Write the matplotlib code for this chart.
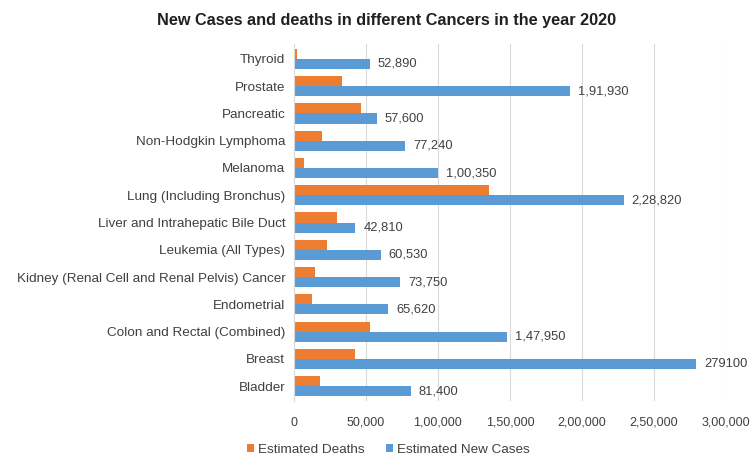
import matplotlib.pyplot as plt
import numpy as np

plt.rcParams['font.family'] = ['Liberation Sans', 'DejaVu Sans']

cancers = ['Bladder', 'Breast', 'Colon and Rectal (Combined)', 'Endometrial',
           'Kidney (Renal Cell and Renal Pelvis) Cancer', 'Leukemia (All Types)',
           'Liver and Intrahepatic Bile Duct', 'Lung (Including Bronchus)',
           'Melanoma', 'Non-Hodgkin Lymphoma', 'Pancreatic', 'Prostate', 'Thyroid']
new_cases = [81400, 279100, 147950, 65620, 73750, 60530, 42810, 228820,
             100350, 77240, 57600, 191930, 52890]
deaths = [17980, 42690, 53200, 12590, 14830, 23100, 30160, 135720,
          6850, 19940, 47050, 33330, 2180]
case_labels = ['81,400', '279100', '1,47,950', '65,620', '73,750', '60,530',
               '42,810', '2,28,820', '1,00,350', '77,240', '57,600',
               '1,91,930', '52,890']
xticks = [0, 50000, 100000, 150000, 200000, 250000, 300000]
xtick_labels = ['0', '50,000', '1,00,000', '1,50,000', '2,00,000',
                '2,50,000', '3,00,000']

txt_color = '#404040'

fig = plt.figure(figsize=(7.51, 4.57), dpi=100)
ax = fig.add_axes([0.391, 0.122, 0.576, 0.782])

y = np.arange(len(cancers))
h = 0.37
ax.barh(y + h / 2, deaths, height=h, color='#ED7D31', label='Estimated Deaths')
bars = ax.barh(y - h / 2, new_cases, height=h, color='#5B9BD5',
               label='Estimated New Cases')
for b, txt in zip(bars, case_labels):
    ax.text(b.get_width() + 5500, b.get_y() + b.get_height() / 2, txt,
            va='center', ha='left', fontsize=9.3, color=txt_color)

ax.set_xlim(0, 300000)
ax.set_ylim(-0.55, 12.55)
ax.set_xticks(xticks)
ax.set_xticklabels(xtick_labels)
ax.set_yticks(y)
ax.set_yticklabels(cancers)
ax.tick_params(axis='both', length=0, colors=txt_color)
ax.tick_params(axis='x', pad=11, labelsize=9)
ax.tick_params(axis='y', pad=6, labelsize=9.7)
ax.xaxis.grid(True, color='#D9D9D9', linewidth=0.8)
ax.set_axisbelow(True)
for s in ['top', 'right', 'bottom']:
    ax.spines[s].set_visible(False)
ax.spines['left'].set_color('#D9D9D9')

fig.suptitle('New Cases and deaths in different Cancers in the year 2020',
             x=0.515, y=0.972, fontsize=11.7, fontweight='bold',
             color='#202020')
fig.legend(loc='lower center', bbox_to_anchor=(0.517, -0.024), ncol=2,
           frameon=False, fontsize=9.7, handlelength=0.5, handleheight=0.5,
           columnspacing=1.6, handletextpad=0.3, labelcolor=txt_color)

fig.savefig('out.png', dpi=100)
